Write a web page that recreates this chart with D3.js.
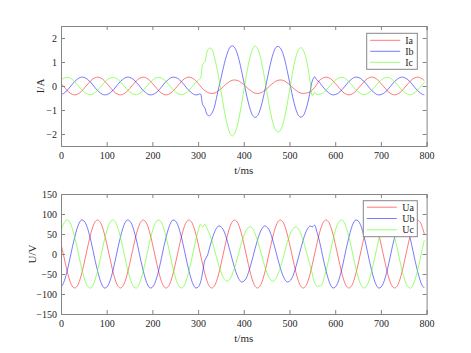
<!DOCTYPE html>
<html><head><meta charset="utf-8">
<script src="https://cdn.jsdelivr.net/npm/d3@7"></script>
<style>
body{margin:0;background:#fff}
svg{display:block}
text{font-family:"Liberation Serif","Times New Roman",serif;fill:#262626}
</style>
</head><body>
<svg id="c" width="471" height="353"></svg>
<script>
// ---- data (sampled every 5 ms, t = 0 … 795 ms) ----
const stepMs = 5;
const xTicks = [0,100,200,300,400,500,600,700,800];
const iTicks = [-2,-1,0,1,2];
const uTicks = [-150,-100,-50,0,50,100,150];
const iNames = ["Ia","Ib","Ic"];
const uNames = ["Ua","Ub","Uc"];
const xLabel = "t/ms";
const iLabel = "I/A";
const uLabel = "U/V";

const Ia = [
0.11,0,-0.11,-0.22,-0.30,-0.35,-0.37,-0.35,-0.30,-0.22,-0.11,0,0.11,0.22,0.30,0.35,0.37,0.35,0.30,0.22,
0.11,0,-0.11,-0.22,-0.30,-0.35,-0.37,-0.35,-0.30,-0.22,-0.11,0,0.11,0.22,0.30,0.35,0.37,0.35,0.30,0.22,
0.11,0,-0.11,-0.22,-0.30,-0.35,-0.37,-0.35,-0.30,-0.22,-0.11,0,0.11,0.22,0.30,0.35,0.37,0.35,0.30,0.22,
0.11,0,
-0.12,-0.19,-0.26,-0.30,-0.31,-0.30,-0.26,-0.19,-0.12,-0.03,0.06,0.13,0.20,0.24,0.25,0.24,0.20,0.13,0.06,-0.03,
-0.12,-0.19,-0.26,-0.30,-0.31,-0.30,-0.26,-0.19,-0.12,-0.03,0.06,0.13,0.20,0.24,0.25,0.24,0.20,0.13,0.06,-0.03,
-0.12,-0.19,-0.26,-0.30,-0.31,-0.30,-0.28,-0.25,-0.17,-0.06,0.07,0.22,
0.30,0.35,0.37,0.35,0.30,0.22,
0.11,0,-0.11,-0.22,-0.30,-0.35,-0.37,-0.35,-0.30,-0.22,-0.11,0,0.11,0.22,0.30,0.35,0.37,0.35,0.30,0.22,
0.11,0,-0.11,-0.22,-0.30,-0.35,-0.37,-0.35,-0.30,-0.22,-0.11,0,0.11,0.22,0.30,0.35,0.37,0.35,0.30,0.22
];
const Ib = [
-0.36,-0.32,-0.25,-0.15,-0.04,0.08,0.19,0.27,0.34,0.37,0.36,0.32,0.25,0.15,0.04,-0.08,-0.19,-0.27,-0.34,-0.37,
-0.36,-0.32,-0.25,-0.15,-0.04,0.08,0.19,0.27,0.34,0.37,0.36,0.32,0.25,0.15,0.04,-0.08,-0.19,-0.27,-0.34,-0.37,
-0.36,-0.32,-0.25,-0.15,-0.04,0.08,0.19,0.27,0.34,0.37,0.36,0.32,0.25,0.15,0.04,-0.08,-0.19,-0.27,-0.34,-0.37,
-0.36,-0.33,
-0.78,-0.92,-1.20,-1.24,-1.14,-0.92,-0.52,-0.08,0.32,0.74,1.12,1.42,1.62,1.67,1.60,1.39,1.06,0.64,0.18,-0.28,
-0.70,-1.03,-1.24,-1.31,-1.24,-1.03,-0.70,-0.28,0.18,0.64,1.06,1.39,1.60,1.65,1.58,1.39,1.06,0.64,0.18,-0.28,
-0.70,-1.03,-1.24,-1.30,-1.24,-1.03,-0.70,-0.25,0.22,0.38,0.24,0.17,
0.04,-0.08,-0.19,-0.27,-0.34,-0.37,
-0.36,-0.32,-0.25,-0.15,-0.04,0.08,0.19,0.27,0.34,0.37,0.36,0.32,0.25,0.15,0.04,-0.08,-0.19,-0.27,-0.34,-0.37,
-0.36,-0.32,-0.25,-0.15,-0.04,0.08,0.19,0.27,0.34,0.37,0.36,0.32,0.25,0.15,0.04,-0.08,-0.19,-0.27,-0.34,-0.37
];
const Ic = [
0.24,0.31,0.35,0.36,0.33,0.27,0.18,0.07,-0.04,-0.15,-0.24,-0.31,-0.35,-0.36,-0.33,-0.27,-0.18,-0.07,0.04,0.15,
0.24,0.31,0.35,0.36,0.33,0.27,0.18,0.07,-0.04,-0.15,-0.24,-0.31,-0.35,-0.36,-0.33,-0.27,-0.18,-0.07,0.04,0.15,
0.24,0.31,0.35,0.36,0.33,0.27,0.18,0.07,-0.04,-0.15,-0.24,-0.31,-0.35,-0.36,-0.33,-0.27,-0.18,-0.07,0.04,0.15,
0.24,0.32,
0.90,1.02,1.45,1.58,1.54,1.25,0.85,0.35,-0.20,-0.77,-1.29,-1.70,-1.98,-2.08,-1.98,-1.72,-1.29,-0.77,-0.20,0.37,
0.89,1.30,1.56,1.67,1.56,1.30,0.89,0.37,-0.20,-0.75,-1.25,-1.62,-1.85,-1.92,-1.85,-1.62,-1.25,-0.75,-0.20,0.37,
0.89,1.28,1.52,1.60,1.50,1.25,0.80,0.20,-0.40,-0.27,-0.37,-0.34,
-0.33,-0.27,-0.18,-0.07,0.04,0.15,
0.24,0.31,0.35,0.36,0.33,0.27,0.18,0.07,-0.04,-0.15,-0.24,-0.31,-0.35,-0.36,-0.33,-0.27,-0.18,-0.07,0.04,0.15,
0.24,0.31,0.35,0.36,0.33,0.27,0.18,0.07,-0.04,-0.15,-0.24,-0.31,-0.35,-0.36,-0.33,-0.27,-0.18,-0.07,0.04,0.15
];
const Ua = [
26,0,-26,-50,-69,-81,-85,-81,-69,-50,-26,0,26,50,69,81,85,81,69,50,
26,0,-26,-50,-69,-81,-85,-81,-69,-50,-26,0,26,50,69,81,85,81,69,50,
26,0,-26,-50,-69,-81,-85,-81,-69,-50,-26,0,26,50,69,81,85,81,69,50,
26,0,-26,-50,-69,-81,-85,-81,-69,-50,-26,0,26,50,69,81,85,81,69,50,
26,0,-26,-50,-69,-81,-85,-81,-69,-50,-26,0,26,50,69,81,85,81,69,50,
26,0,-26,-50,-69,-81,-85,-81,-69,-50,-26,0,26,50,69,81,85,81,69,50,
26,0,-26,-50,-69,-81,-85,-81,-69,-50,-26,0,26,50,69,81,85,81,69,50,
26,0,-26,-50,-69,-81,-85,-81,-69,-50,-26,0,26,50,69,81,85,81,69,50
];
const Ub = [
-83,-74,-57,-35,-9,18,42,63,78,85,83,74,57,35,9,-18,-42,-63,-78,-85,
-83,-74,-57,-35,-9,18,42,63,78,85,83,74,57,35,9,-18,-42,-63,-78,-85,
-83,-74,-57,-35,-9,18,42,63,78,85,83,74,57,35,9,-18,-42,-63,-78,-85,
-83,-72,
-45,-15,-5,15,35,52,64,70,68,61,47,28,7,-15,-35,-52,-64,-70,-68,-61,
-47,-28,-7,15,35,52,64,70,68,61,47,28,7,-15,-35,-52,-64,-70,-68,-61,
-47,-28,-7,15,35,52,64,70,68,72,55,35,
9,-18,-42,-63,-78,-85,
-83,-74,-57,-35,-9,18,42,63,78,85,83,74,57,35,9,-18,-42,-63,-78,-85,
-83,-74,-57,-35,-9,18,42,63,78,85,83,74,57,35,9,-18,-42,-63,-78,-85
];
const Uc = [
57,74,83,85,78,63,42,18,-9,-35,-57,-74,-83,-85,-78,-63,-42,-18,9,35,
57,74,83,85,78,63,42,18,-9,-35,-57,-74,-83,-85,-78,-63,-42,-18,9,35,
57,74,83,85,78,63,42,18,-9,-35,-57,-74,-83,-85,-78,-63,-42,-18,9,35,
57,74,
68,74,62,50,34,14,-7,-28,-45,-59,-66,-68,-62,-50,-34,-14,7,28,45,59,
66,68,62,50,34,14,-7,-28,-45,-59,-66,-68,-62,-50,-34,-14,7,28,45,59,
66,68,62,50,34,14,-7,-28,-50,-72,-80,-80,
-78,-63,-42,-18,9,35,
57,74,83,85,78,63,42,18,-9,-35,-57,-74,-83,-85,-78,-63,-42,-18,9,35,
57,74,83,85,78,63,42,18,-9,-35,-57,-74,-83,-85,-78,-63,-42,-18,9,35
];

// ---- drawing ----
const colors = ["#ff2020","#2020ff","#55ff11"];
const svg = d3.select("#c");
const axisColor = "#858585";

function panel(cfg){
  const x = d3.scaleLinear().domain([0,800]).range([cfg.left, cfg.right]);
  const y = d3.scaleLinear().domain(cfg.domain).range([cfg.bottom, cfg.top]);
  const g = svg.append("g");
  const cid = "clip"+cfg.id;
  svg.append("clipPath").attr("id",cid).append("rect")
    .attr("x",cfg.left).attr("y",cfg.top)
    .attr("width",cfg.right-cfg.left).attr("height",cfg.bottom-cfg.top);
  const lines = g.append("g").attr("clip-path",`url(#${cid})`);
  cfg.series.forEach((s,i)=>{
    const line = d3.line().x((d,k)=>x(k*stepMs)).y(d=>y(d)).curve(d3.curveCatmullRom.alpha(0.5));
    lines.append("path").attr("d",line(s)).attr("fill","none")
      .attr("stroke",colors[i]).attr("stroke-width",0.6);
  });
  const tl = 4;
  const ax = g.append("g");
  ax.append("g").attr("transform",`translate(0,${cfg.bottom})`)
    .call(d3.axisBottom(x).tickValues(xTicks).tickSize(-tl).tickPadding(6).tickFormat(d3.format("d")));
  ax.append("g").attr("transform",`translate(0,${cfg.top})`)
    .call(d3.axisTop(x).tickValues(xTicks).tickSize(-tl).tickFormat(""));
  ax.append("g").attr("transform",`translate(${cfg.left},0)`)
    .call(d3.axisLeft(y).tickValues(cfg.ticks).tickSize(-tl).tickPadding(4).tickFormat(d3.format("d")));
  ax.append("g").attr("transform",`translate(${cfg.right},0)`)
    .call(d3.axisRight(y).tickValues(cfg.ticks).tickSize(-tl).tickFormat(""));
  ax.selectAll("g").attr("font-family",null);
  ax.selectAll(".domain").attr("stroke",axisColor).attr("stroke-width",1);
  ax.selectAll(".tick line").attr("stroke",axisColor);
  ax.selectAll(".tick text").attr("font-size",10).attr("fill","#262626");
  g.append("text").attr("x",(cfg.left+cfg.right)/2).attr("y",cfg.bottom+27.5)
    .attr("text-anchor","middle").attr("font-size",11).text(xLabel);
  g.append("text").attr("transform",`translate(${cfg.ylabX},${(cfg.top+cfg.bottom)/2}) rotate(-90)`)
    .attr("text-anchor","middle").attr("dy","0.35em").attr("font-size",11).text(cfg.ylab);
  const L = cfg.legend;
  const lg = g.append("g");
  lg.append("rect").attr("x",L.x).attr("y",L.y).attr("width",L.w).attr("height",L.h)
    .attr("fill","#fff").attr("stroke",axisColor).attr("stroke-width",1);
  cfg.names.forEach((n,i)=>{
    const yy = L.y + L.row0 + i*L.dy;
    lg.append("line").attr("x1",L.x+L.l0).attr("x2",L.x+L.l1).attr("y1",yy).attr("y2",yy)
      .attr("stroke",colors[i]).attr("stroke-width",0.6);
    lg.append("text").attr("x",L.x+L.tx).attr("y",yy).attr("dy","0.35em").attr("font-size",10).text(n);
  });
}

panel({id:1,left:61,right:426.6,top:26,bottom:146,domain:[-2.5,2.5],ticks:iTicks,
  series:[Ia,Ib,Ic],names:iNames,ylab:iLabel,ylabX:40,
  legend:{x:366.7,y:33.3,w:50.6,h:36,row0:7,dy:11,l0:3.5,l1:33.5,tx:38.5}});
panel({id:2,left:61,right:426.6,top:194,bottom:314,domain:[-150,150],ticks:uTicks,
  series:[Ua,Ub,Uc],names:uNames,ylab:uLabel,ylabX:32,
  legend:{x:363.3,y:200.7,w:54,h:36,row0:6.5,dy:11.3,l0:3.5,l1:33.5,tx:39}});
</script>
</body></html>
